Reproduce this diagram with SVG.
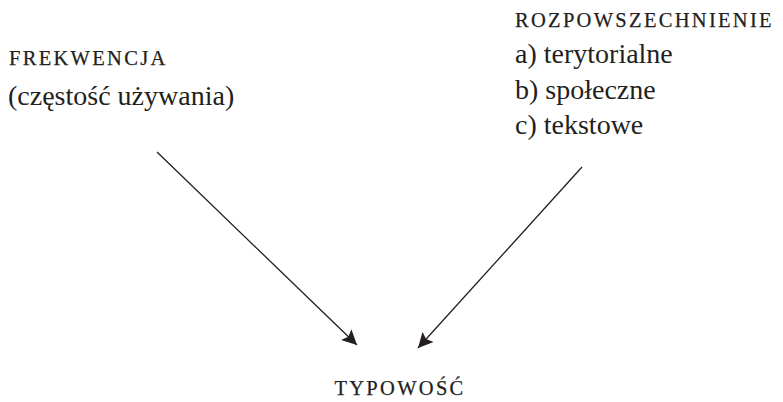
<svg xmlns="http://www.w3.org/2000/svg" width="783" height="402" viewBox="0 0 783 402">
<style>
text{font-family:"Liberation Serif","Times New Roman",serif;fill:#231f20}
.sc{font-size:20.5px;letter-spacing:2.3px;stroke:#231f20;stroke-width:0.25}
.t{font-size:28px}
.c{stroke:#231f20;stroke-width:1.3;fill:none}
</style>
<defs>
<marker id="ah" viewBox="0 0 10 10" refX="10" refY="5" markerWidth="15" markerHeight="15" markerUnits="userSpaceOnUse" orient="auto">
<path d="M0,0 L10,5 L0,10 L2,5 Z" fill="#231f20"/>
</marker>
</defs>
<rect width="783" height="402" fill="#fff"/>
<g id="frekwencja">
<text x="9" y="65" class="sc">FREKWENCJA</text>
<text x="8" y="105" class="t">(częstość używania)</text>
</g>
<g id="rozpowszechnienie">
<text x="515" y="27" class="sc">ROZPOWSZECHNIENIE</text>
<text x="515" y="63" class="t">a) terytorialne</text>
<text x="515" y="99" class="t">b) społeczne</text>
<text x="515" y="134" class="t">c) tekstowe</text>
</g>
<g id="typowosc">
<text x="400" y="395" class="sc" text-anchor="middle">TYPOWOŚĆ</text>
</g>
<g id="connectors">
<line x1="157" y1="152" x2="357" y2="345" class="c" marker-end="url(#ah)"/>
<line x1="582" y1="167" x2="418" y2="348" class="c" marker-end="url(#ah)"/>
</g>
</svg>
